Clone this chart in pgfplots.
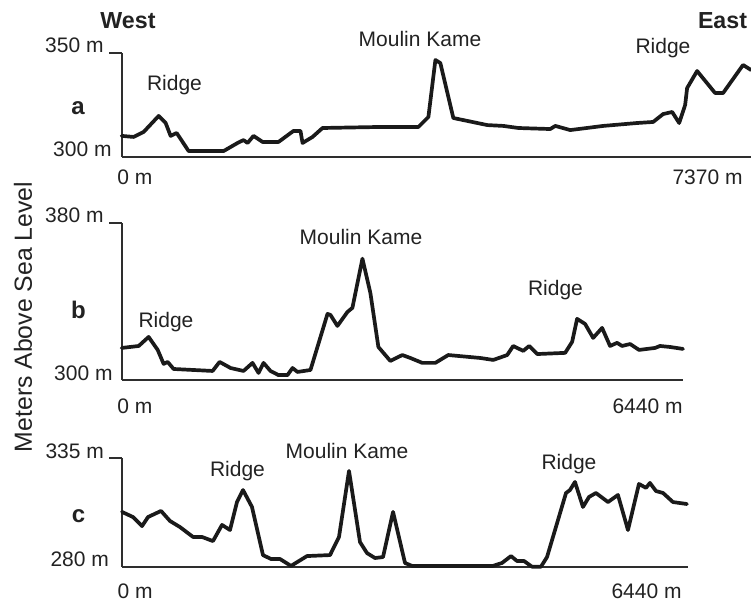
\documentclass[border=0pt]{standalone}
\usepackage{fontspec}
\setmainfont{Liberation Sans}
\usepackage{pgfplots}
\pgfplotsset{compat=1.18}
\definecolor{prof}{HTML}{1A1A1A}
\definecolor{axc}{HTML}{2E2E2E}
\definecolor{txt}{HTML}{222222}
\newcommand{\nf}{\fontsize{10.5}{12}\selectfont}
\pgfplotsset{
  profile/.style={
    scale only axis,
    axis x line*=bottom, axis y line*=left,
    axis line style={axc, line width=1pt, -},
    clip=false,
    major tick length=0pt,
    tick style={draw=none},
    /pgf/number format/assume math mode=true,
    ticklabel style={font=\nf, text=txt, inner sep=0pt},
    yticklabel style={anchor=base east, xshift=-8.85pt},
    xticklabel style={anchor=base west, xshift=-2.35pt},
    xmin=0,
  },
  trace/.style={prof, line width=1.85pt, line join=round, line cap=round},
}
\begin{document}
\begin{tikzpicture}
\useasboundingbox (0,0) rectangle (375.5pt,300.5pt);
% ---------------- panel a
\begin{axis}[profile, at={(60.85pt,222.15pt)}, anchor=origin,
  width=314.65pt, height=52pt, xmax=7370, ymin=300, ymax=350,
  ytick={350}, yticklabels={350 m},
  extra y ticks={300}, extra y tick labels={300 m},
  extra y tick style={yticklabel style={xshift=4pt}},
  xtick={0}, xticklabels={0 m},
  xticklabel style={yshift=-14.15pt},
  extra x ticks={7370}, extra x tick labels={7370 m},
  extra x tick style={xticklabel style={anchor=base east, xshift=-1.65pt}},
]
\addplot[trace] coordinates {
(0,310.0) (140,309.5) (257,311.9) (433,319.6) (515,316.2) (573,310.0) (644,311.4)
(784,302.7) (1193,302.7) (1357,306.6) (1427,308.0) (1474,306.6) (1544,310.0)
(1650,307.1) (1837,307.1) (2012,312.4) (2094,312.4) (2118,306.6) (2235,309.5)
(2352,313.8) (3030,314.3) (3475,314.3) (3592,319.1) (3674,346.5) (3732,345.0)
(3884,318.6) (4048,317.2) (4282,315.2) (4469,314.8) (4645,313.8) (5019,313.3)
(5078,314.8) (5253,312.8) (5640,314.8) (6037,316.2) (6224,316.7) (6341,320.5)
(6447,321.5) (6529,316.2) (6599,324.9) (6622,333.0) (6739,341.2) (6950,330.6)
(7043,330.6) (7277,344.1) (7370,341.7)};
\draw[axc, line width=1pt] (axis cs:0,350) -- ([xshift=-6.5pt]axis cs:0,350);
\end{axis}
% ---------------- panel b
\begin{axis}[profile, at={(60.85pt,110.5pt)}, anchor=origin,
  width=280.65pt, height=78.65pt, xmax=6440, ymin=300, ymax=380,
  ytick={380}, yticklabels={380 m},
  extra y ticks={300}, extra y tick labels={300 m},
  extra y tick style={yticklabel style={xshift=4.5pt}},
  xtick={0}, xticklabels={0 m},
  xticklabel style={yshift=-16.5pt},
  extra x ticks={6440}, extra x tick labels={6440 m},
  extra x tick style={xticklabel style={anchor=base east, xshift=2.35pt}},
]
\addplot[trace] coordinates {
(0,316.3) (195,317.3) (309,321.9) (413,315.3) (481,308.2) (527,309.2) (596,305.6)
(1043,304.6) (1123,309.2) (1249,306.1) (1398,304.6) (1501,308.7) (1570,303.6)
(1627,308.7) (1707,304.6) (1799,302.5) (1902,302.5) (1960,306.1) (2017,304.1)
(2166,305.1) (2361,333.6) (2395,333.1) (2475,327.5) (2590,334.6) (2647,336.7)
(2762,361.7) (2853,344.3) (2945,316.8) (3082,309.7) (3220,312.7) (3312,311.2)
(3449,308.7) (3598,308.7) (3747,312.7) (4114,311.2) (4263,310.2) (4423,312.7)
(4492,317.3) (4607,314.8) (4675,317.3) (4767,313.2) (5088,313.8) (5168,319.4)
(5225,331.1) (5317,328.5) (5409,321.4) (5512,326.5) (5603,317.3) (5684,318.9)
(5741,317.3) (5833,318.3) (5936,315.3) (6119,316.3) (6176,317.3) (6291,316.8)
(6440,315.8)};
\draw[axc, line width=1pt] (axis cs:0,380) -- ([xshift=-6.5pt]axis cs:0,380);
\end{axis}
% ---------------- panel c
\begin{axis}[profile, at={(61pt,17.15pt)}, anchor=origin,
  width=283pt, height=54.2pt, xmax=6440, ymin=280, ymax=335,
  ytick={335}, yticklabels={335 m},
  extra y ticks={280}, extra y tick labels={280 m},
  extra y tick style={yticklabel style={xshift=2.5pt}},
  xtick={0}, xticklabels={0 m},
  xticklabel style={yshift=-15.65pt},
  extra x ticks={6440}, extra x tick labels={6440 m},
  extra x tick style={xticklabel style={anchor=base east, xshift=-0.65pt}},
]
\addplot[trace] coordinates {
(0,307.8) (125,305.2) (228,300.6) (296,305.2) (444,308.3) (546,303.2) (660,300.1)
(808,295.1) (910,295.1) (1035,293.0) (1138,301.2) (1229,298.6) (1308,312.8)
(1377,318.9) (1479,310.3) (1604,285.9) (1695,283.9) (1798,283.9) (1923,280.4)
(2105,285.4) (2367,285.9) (2469,295.1) (2583,328.6) (2708,292.5) (2788,286.9)
(2879,284.4) (2970,284.9) (3084,307.8) (3220,281.9) (3300,280.4) (4221,280.4)
(4324,281.9) (4426,285.4) (4494,282.9) (4574,282.9) (4665,280.0) (4767,280.0)
(4836,284.9) (5052,317.4) (5097,318.9) (5154,323.0) (5245,310.3) (5314,315.4)
(5393,317.4) (5530,312.8) (5643,316.4) (5757,298.6) (5882,322.0) (5962,320.0)
(6007,322.5) (6076,318.4) (6156,317.4) (6269,312.8) (6428,311.8)};
\draw[axc, line width=1pt] (axis cs:0,335) -- ([xshift=-6.5pt]axis cs:0,335);
\end{axis}
% ---------------- texts
\begin{scope}[every node/.style={text=txt, inner sep=0pt, anchor=base}]
\node[font=\fontsize{11.6}{13}\selectfont\bfseries] at (64pt,286pt) {West};
\node[font=\fontsize{11.6}{13}\selectfont\bfseries] at (361.25pt,286pt) {East};
\node[font=\nf] at (87.25pt,255pt) {Ridge};
\node[font=\nf] at (210pt,277pt) {Moulin Kame};
\node[font=\nf] at (331.5pt,273.5pt) {Ridge};
\node[font=\fontsize{12}{14}\selectfont\bfseries] at (39pt,243pt) {a};
\node[font=\nf] at (180.5pt,178pt) {Moulin Kame};
\node[font=\nf] at (83pt,136.5pt) {Ridge};
\node[font=\nf] at (277.75pt,152.5pt) {Ridge};
\node[font=\fontsize{12}{14}\selectfont\bfseries] at (39.25pt,141pt) {b};
\node[font=\nf] at (173.5pt,71pt) {Moulin Kame};
\node[font=\nf] at (118.75pt,62.5pt) {Ridge};
\node[font=\nf] at (284.5pt,66pt) {Ridge};
\node[font=\fontsize{12}{14}\selectfont\bfseries] at (39.25pt,39.5pt) {c};
\node[font=\fontsize{12.4}{14}\selectfont, rotate=90] at (16pt,142pt) {Meters Above Sea Level};
\end{scope}
\end{tikzpicture}
\end{document}
